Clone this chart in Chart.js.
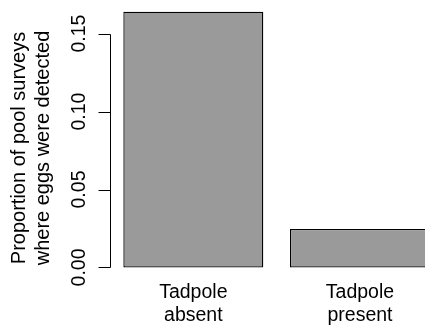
<!DOCTYPE html>
<html>
<head>
<meta charset="utf-8">
<script src="https://cdn.jsdelivr.net/npm/chart.js@4/dist/chart.umd.min.js"></script>
<style>
  html, body { margin: 0; padding: 0; background: #ffffff; overflow: hidden; }
  #wrap { width: 460px; height: 326px; }
</style>
</head>
<body>
<div id="wrap"><canvas id="c" width="460" height="326"></canvas></div>
<script>
const categories = [["Tadpole", "absent"], ["Tadpole", "present"]];
const proportions = [0.164, 0.0247];
const yTickValues = [0, 0.05, 0.10, 0.15];
const yTickLabels = ["0.00", "0.05", "0.10", "0.15"];
const yTitleLines = ["Proportion of pool surveys", "where eggs were detected"];

const FONT = '"Liberation Sans", Arial, Helvetica, sans-serif';

const rAxisPlugin = {
  id: 'rAxis',
  afterDraw(chart) {
    const ctx = chart.ctx;
    const y = chart.scales.y;
    const x0 = Math.round(chart.chartArea.left) + 0.5;
    ctx.save();
    ctx.strokeStyle = '#000';
    ctx.lineWidth = 1;
    const top = y.getPixelForValue(yTickValues[yTickValues.length - 1]);
    const bot = y.getPixelForValue(yTickValues[0]);
    ctx.beginPath();
    ctx.moveTo(x0, Math.round(top) + 0.5);
    ctx.lineTo(x0, Math.round(bot) + 0.5);
    yTickValues.forEach(v => {
      const p = Math.round(y.getPixelForValue(v)) + 0.5;
      ctx.moveTo(x0, p);
      ctx.lineTo(x0 - 12, p);
    });
    ctx.stroke();
    ctx.fillStyle = '#000';
    ctx.font = '19.5px ' + FONT;
    ctx.textAlign = 'center';
    ctx.textBaseline = 'alphabetic';
    yTickValues.forEach((v, i) => {
      const p = y.getPixelForValue(v);
      ctx.save();
      ctx.translate(85, p);
      ctx.rotate(-Math.PI / 2);
      ctx.fillText(yTickLabels[i], 0, 0);
      ctx.restore();
    });
    ctx.font = '20px ' + FONT;
    const titleBaselines = [25, 48.5];
    yTitleLines.forEach((t, i) => {
      ctx.save();
      ctx.translate(titleBaselines[i], 148);
      ctx.rotate(-Math.PI / 2);
      ctx.fillText(t, 0, 0);
      ctx.restore();
    });
    ctx.restore();
  }
};

new Chart(document.getElementById('c'), {
  type: 'bar',
  data: {
    labels: categories,
    datasets: [{
      data: proportions,
      backgroundColor: '#9a9a9a',
      borderColor: '#000000',
      borderWidth: 1.3,
      borderSkipped: false,
      categoryPercentage: 1.0,
      barPercentage: 0.84
    }]
  },
  options: {
    responsive: false,
    animation: false,
    devicePixelRatio: 1,
    layout: { padding: { top: 1.8, right: 16.7, left: 0, bottom: 0 } },
    plugins: { legend: { display: false }, tooltip: { enabled: false }, title: { display: false } },
    scales: {
      x: {
        offset: true,
        grid: { display: false, drawTicks: false },
        border: { display: false },
        ticks: {
          color: '#000',
          font: { family: FONT, size: 19.5, lineHeight: 1.16 },
          padding: 4,
          maxRotation: 0,
          minRotation: 0,
          autoSkip: false
        },
        afterFit(scale) { scale.height = 48.3; }
      },
      y: {
        min: -0.00655,
        max: 0.17035,
        grid: { display: false, drawTicks: false },
        border: { display: false },
        ticks: { display: false },
        afterFit(scale) { scale.width = 110; }
      }
    }
  },
  plugins: [rAxisPlugin]
});
</script>
</body>
</html>
